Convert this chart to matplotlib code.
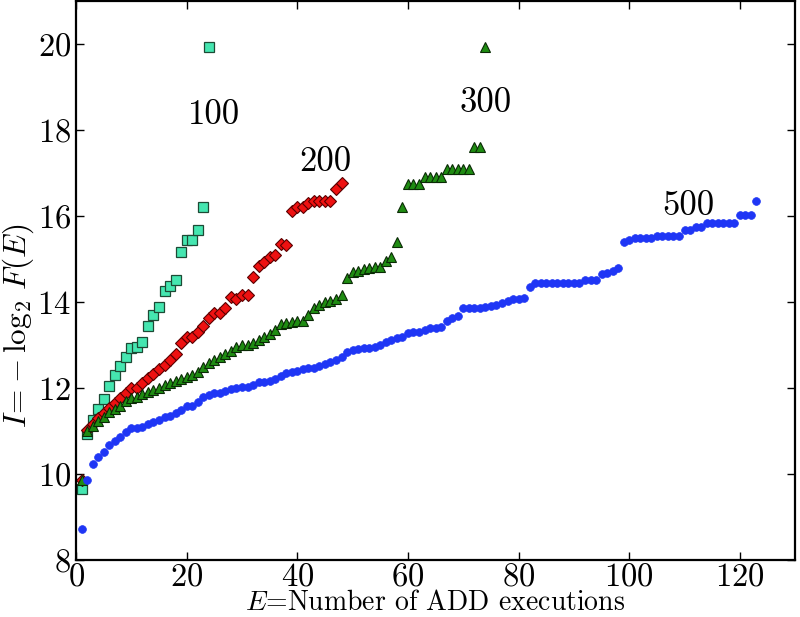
import matplotlib
matplotlib.use("Agg")
import matplotlib.pyplot as plt
from matplotlib.ticker import MultipleLocator

plt.rcParams['font.family'] = 'cmr10'
plt.rcParams['mathtext.fontset'] = 'cm'
plt.rcParams['axes.unicode_minus'] = False
plt.rcParams['axes.formatter.use_mathtext'] = True

# I = -log2 F(E) for each population size, E = 1, 2, 3, ...
y100 = [9.65, 10.92, 11.26, 11.52, 11.74, 12.05, 12.30, 12.52, 12.73, 12.92,
        12.95, 13.08, 13.44, 13.70, 13.89, 14.25, 14.37, 14.52, 15.16, 15.45,
        15.45, 15.67, 16.21, 19.92]

y200 = [9.87, 11.03, 11.17, 11.30, 11.41, 11.53, 11.65, 11.76, 11.88, 11.99,
        11.99, 12.11, 12.23, 12.33, 12.44, 12.54, 12.65, 12.79, 13.05, 13.19,
        13.18, 13.30, 13.43, 13.62, 13.75, 13.75, 13.86, 14.11, 14.08, 14.16,
        14.16, 14.57, 14.83, 14.93, 15.05, 15.10, 15.34, 15.32, 16.12, 16.21,
        16.21, 16.31, 16.35, 16.35, 16.35, 16.35, 16.62, 16.76]

y300 = [9.87, 11.00, 11.12, 11.23, 11.33, 11.43, 11.52, 11.59, 11.70, 11.76,
        11.80, 11.86, 11.91, 11.96, 12.01, 12.06, 12.11, 12.16, 12.21, 12.26,
        12.31, 12.38, 12.48, 12.58, 12.66, 12.73, 12.79, 12.87, 12.96, 13.00,
        13.00, 13.04, 13.12, 13.19, 13.26, 13.35, 13.48, 13.50, 13.54, 13.56,
        13.56, 13.70, 13.87, 13.93, 14.00, 14.03, 14.08, 14.16, 14.55, 14.70,
        14.72, 14.76, 14.78, 14.82, 14.82, 14.96, 15.05, 15.40, 16.21, 16.75,
        16.75, 16.75, 16.90, 16.90, 16.90, 16.90, 17.10, 17.10, 17.10, 17.10,
        17.10, 17.60, 17.60, 19.92]

y500 = [8.72, 9.87, 10.24, 10.39, 10.52, 10.68, 10.77, 10.87, 10.97, 11.07,
        11.07, 11.10, 11.17, 11.20, 11.26, 11.32, 11.36, 11.41, 11.49, 11.57,
        11.58, 11.68, 11.80, 11.84, 11.88, 11.89, 11.93, 11.97, 12.01, 12.03,
        12.03, 12.07, 12.13, 12.15, 12.17, 12.21, 12.28, 12.34, 12.38, 12.40,
        12.44, 12.46, 12.46, 12.50, 12.55, 12.61, 12.65, 12.71, 12.84, 12.88,
        12.91, 12.92, 12.94, 12.96, 13.00, 13.08, 13.12, 13.16, 13.19, 13.27,
        13.31, 13.31, 13.35, 13.39, 13.40, 13.42, 13.56, 13.62, 13.67, 13.85,
        13.85, 13.85, 13.85, 13.89, 13.90, 13.94, 13.98, 14.02, 14.06, 14.08,
        14.10, 14.36, 14.45, 14.45, 14.45, 14.45, 14.45, 14.45, 14.45, 14.45,
        14.45, 14.52, 14.52, 14.52, 14.65, 14.68, 14.72, 14.79, 15.40, 15.45,
        15.48, 15.48, 15.48, 15.48, 15.53, 15.53, 15.53, 15.53, 15.53, 15.67,
        15.67, 15.74, 15.74, 15.84, 15.84, 15.84, 15.84, 15.84, 15.84, 16.02,
        16.02, 16.02, 16.34]

labels = ['100', '200', '300', '500']
label_pos = [(20.3, 18.34), (40.3, 17.25), (69.4, 18.63), (106.0, 16.22)]

fig = plt.figure(figsize=(8, 6.17), dpi=100)
ax = fig.add_axes([0.095, 0.0924, 0.899, 0.906])

ax.plot(range(1, len(y100) + 1), y100, 's', color='#45e6b0', mec='#1d4a35',
        mew=0.9, ms=7.2, linestyle='none')
ax.plot(range(1, len(y200) + 1), y200, 'D', color='#ee1111', mec='#5a0000',
        mew=0.8, ms=6.6, linestyle='none')
ax.plot(range(1, len(y300) + 1), y300, '^', color='#1f8c12', mec='#0a2a05',
        mew=0.8, ms=7.2, linestyle='none')
ax.plot(range(1, len(y500) + 1), y500, 'o', color='#1f36f5', mec='#1f36f5',
        mew=0.5, ms=5.6, linestyle='none')

for lab, (tx, ty) in zip(labels, label_pos):
    ax.text(tx, ty, lab, fontsize=25, ha='left', va='center')

ax.set_xlim(0, 130)
ax.set_ylim(8, 21)
ax.xaxis.set_major_locator(MultipleLocator(20))
ax.yaxis.set_major_locator(MultipleLocator(2))
ax.tick_params(direction='in', length=6, width=1, labelsize=23.5,
               top=True, right=True)
ax.tick_params(axis='x', pad=1.5)
for sp in ax.spines.values():
    sp.set_linewidth(1.6)

ax.set_xlabel(r'$E$=Number of ADD executions', fontsize=20, va='baseline')
ax.xaxis.set_label_coords(0.5, -0.0893)
ax.set_ylabel(r'$I\!=\!-\log_2\,F(E)$', fontsize=22.5)
ax.yaxis.set_label_coords(-0.056, 0.42)

fig.savefig('out.png', dpi=100)
